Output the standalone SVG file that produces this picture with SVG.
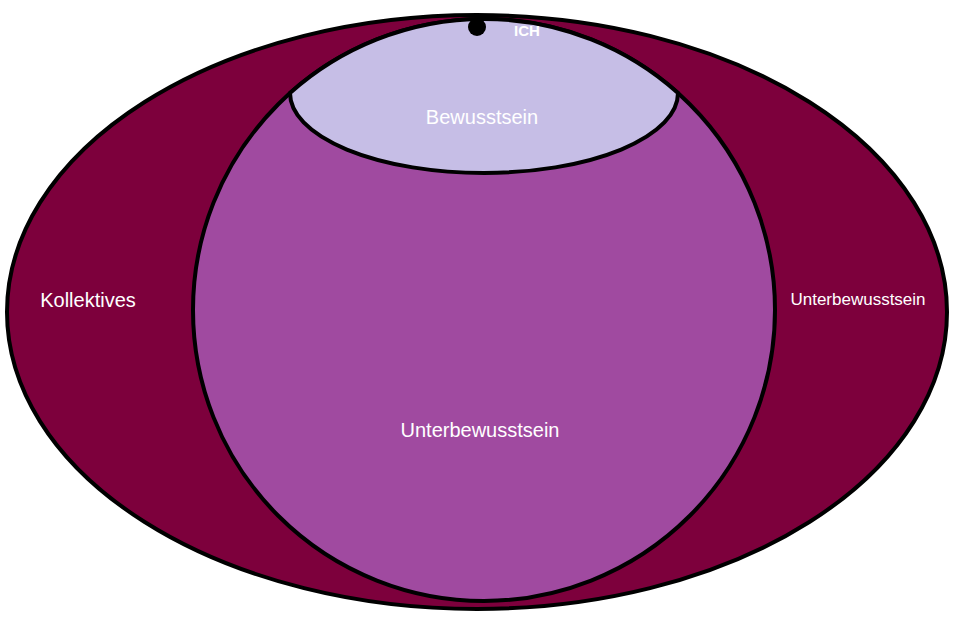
<svg xmlns="http://www.w3.org/2000/svg" width="954" height="623" viewBox="0 0 954 623">
<style>
.s{stroke:#000;stroke-width:4}
text{font-family:"Liberation Sans",Arial,sans-serif;fill:#fff;text-anchor:middle}
</style>
<rect width="954" height="623" fill="#fff"/>
<g id="kollektives">
<ellipse class="s" cx="477" cy="312" rx="470" ry="297" fill="#7d003c"/>
<text x="88" y="307" font-size="20">Kollektives</text>
<text x="858" y="305" font-size="17">Unterbewusstsein</text>
</g>
<g id="unterbewusstsein">
<circle class="s" cx="484" cy="310" r="291" fill="#a04aa0"/>
<text x="480" y="437" font-size="20">Unterbewusstsein</text>
</g>
<g id="bewusstsein">
<path class="s" d="M290,93 A291,291 0 0 1 678,93 A194,80 0 0 1 290,93 Z" fill="#c6bee6"/>
<text x="482" y="124" font-size="20">Bewusstsein</text>
</g>
<g id="ich">
<circle cx="477" cy="27" r="9" fill="#000"/>
<text x="527" y="36" font-size="15" font-weight="bold">ICH</text>
</g>
<g id="connectors"/>
</svg>
